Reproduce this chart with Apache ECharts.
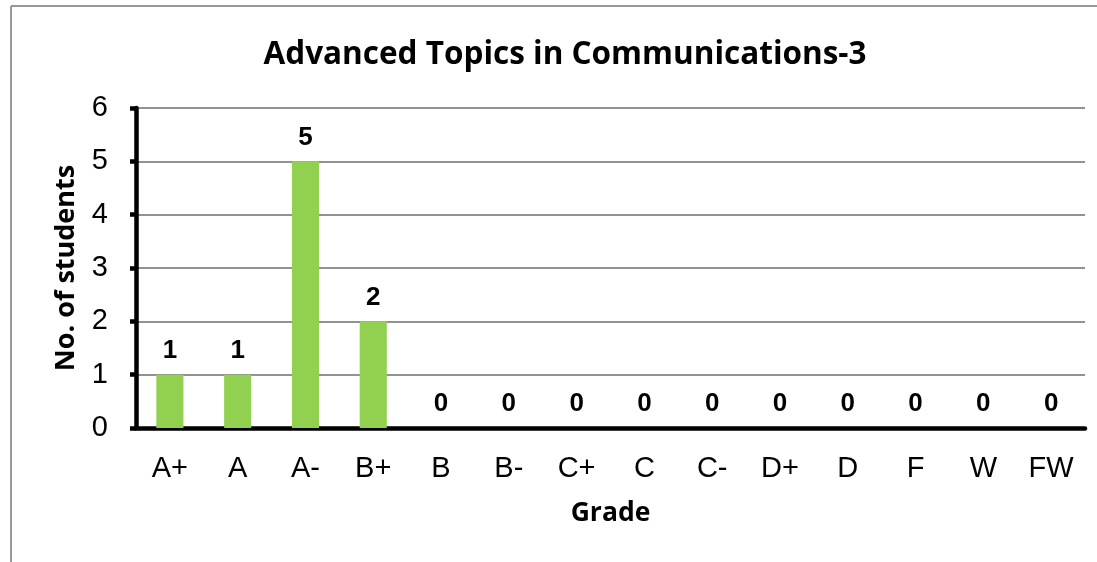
<!DOCTYPE html>
<html>
<head>
<meta charset="utf-8">
<script src="https://cdn.jsdelivr.net/npm/echarts@6/dist/echarts.min.js"></script>
<style>
  html, body { margin: 0; padding: 0; background: #fff; }
  #main { width: 1097px; height: 562px; }
</style>
</head>
<body>
<div id="main"></div>
<script>
  // 成绩类别与人数
  var grades = ['A+', 'A', 'A-', 'B+', 'B', 'B-', 'C+', 'C', 'C-', 'D+', 'D', 'F', 'W', 'FW'];
  var students = [1, 1, 5, 2, 0, 0, 0, 0, 0, 0, 0, 0, 0, 0];
  var yTicks = [0, 1, 2, 3, 4, 5, 6];

  var myChart = echarts.init(document.getElementById('main'));
  myChart.setOption({
    animation: false,
    title: {
      text: 'Advanced Topics in Communications-3',
      left: 560,
      textAlign: 'center',
      top: 34,
      textStyle: {fontFamily: 'Open Sans', fontWeight: 'bold', fontSize: 31.5, color: '#000'}
    },
    // 外框（只露出左边和上边）
    graphic: [
      {type: 'line', shape: {x1: 11, y1: 6, x2: 1097, y2: 6}, style: {stroke: '#999', lineWidth: 2}},
      {type: 'line', shape: {x1: 11, y1: 6, x2: 11, y2: 562}, style: {stroke: '#999', lineWidth: 2}}
    ],
    grid: {left: 136, right: 12, top: 108, bottom: 134},
    xAxis: {
      type: 'category',
      data: grades,
      name: 'Grade',
      nameLocation: 'middle',
      nameGap: 72,
      nameTextStyle: {fontFamily: 'Open Sans', fontWeight: 'bold', fontSize: 26.5, color: '#000'},
      axisLine: {lineStyle: {color: '#000', width: 4.5}},
      axisTick: {length: 6, lineStyle: {color: '#000', width: 4.5}},
      axisLabel: {margin: 26, fontFamily: 'Liberation Sans', fontSize: 29, color: '#000'}
    },
    yAxis: {
      type: 'value',
      min: 0,
      max: yTicks[yTicks.length - 1],
      interval: 1,
      name: 'No. of students',
      nameLocation: 'middle',
      nameGap: 56,
      nameTextStyle: {fontFamily: 'Open Sans', fontWeight: 'bold', fontSize: 27, color: '#000'},
      axisLine: {show: true, lineStyle: {color: '#000', width: 4.5}},
      axisTick: {show: true, length: 6, lineStyle: {color: '#000', width: 4.5}},
      axisLabel: {margin: 28, fontFamily: 'Liberation Sans', fontSize: 29, color: '#000'},
      splitLine: {lineStyle: {color: '#929292', width: 2}}
    },
    series: [{
      type: 'bar',
      data: students,
      barWidth: '40%',
      itemStyle: {color: '#92d050'},
      label: {
        show: true,
        position: 'top',
        distance: 11,
        fontFamily: 'Liberation Sans',
        fontWeight: 'bold',
        fontSize: 26,
        color: '#000'
      }
    }]
  });
</script>
</body>
</html>
